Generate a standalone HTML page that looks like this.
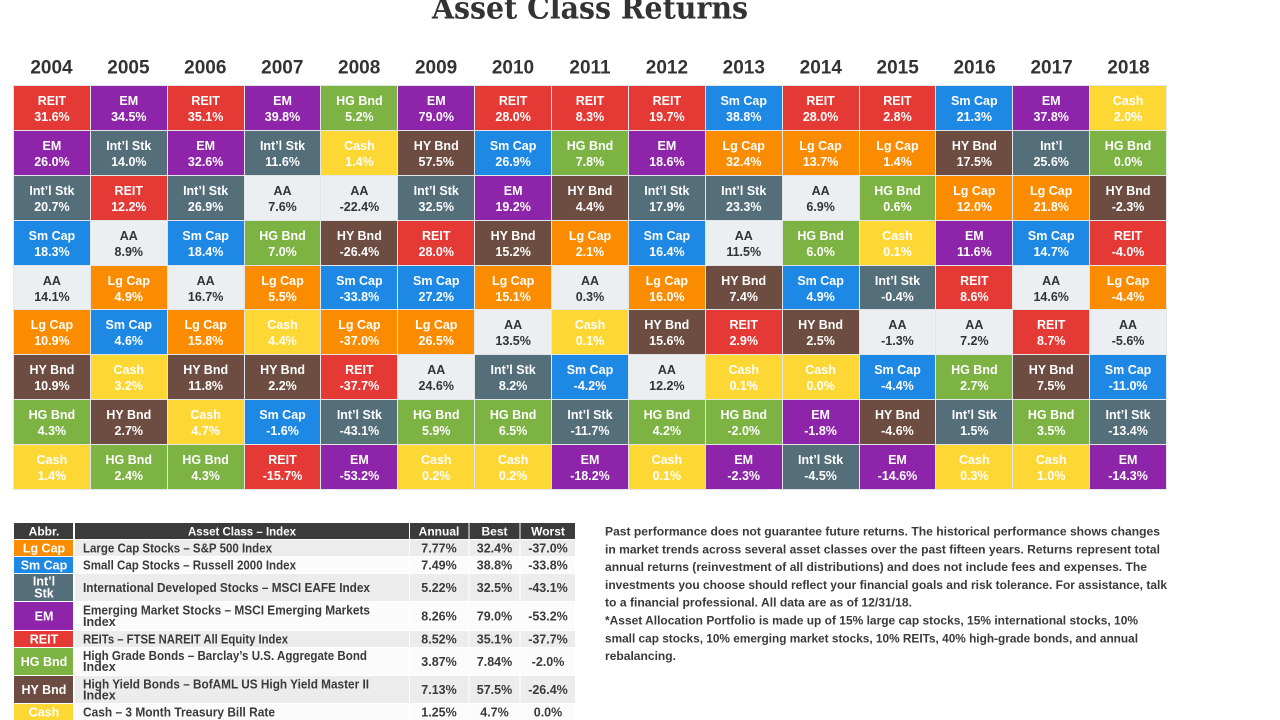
<!DOCTYPE html>
<html><head><meta charset="utf-8"><style>
html,body{margin:0;padding:0;background:#fff;}
body{width:1280px;height:720px;position:relative;overflow:hidden;font-family:"Liberation Sans",sans-serif;}
svg.page{position:absolute;left:0;top:0;}
.grid{position:absolute;left:13px;top:85px;width:1154px;height:405px;display:grid;grid-template-columns:repeat(15,1fr);grid-template-rows:repeat(9,1fr);grid-auto-flow:column;gap:1px;padding:1px;box-sizing:border-box;background:#e3e6e8;}
.grid div{box-sizing:border-box;padding-top:7px;text-align:center;color:#fff;font:bold 12.5px/16px "Liberation Sans",sans-serif;white-space:nowrap;}
.r{background:#e53935}.e{background:#8e24aa}.i{background:#546e7a}.s{background:#1e88e5}
.grid .a{background:#eceff1;color:#333}.l{background:#fb8c00}.h{background:#6d4c41}.g{background:#7cb342}.c{background:#fdd835}
</style></head><body>
<svg class="page" width="1280" height="720" viewBox="0 0 1280 720" xmlns="http://www.w3.org/2000/svg">
<text x="590" y="18.5" text-anchor="middle" font-family="DejaVu Serif, Liberation Serif, serif" font-weight="bold" font-size="31" fill="#333" textLength="316" lengthAdjust="spacingAndGlyphs">Asset Class Returns</text>
<g font-family="Liberation Sans, sans-serif" font-weight="bold" font-size="19" fill="#333" text-anchor="middle">
<text x="51.5" y="73.3">2004</text><text x="128.4" y="73.3">2005</text><text x="205.3" y="73.3">2006</text><text x="282.3" y="73.3">2007</text><text x="359.2" y="73.3">2008</text><text x="436.1" y="73.3">2009</text><text x="513" y="73.3">2010</text><text x="590" y="73.3">2011</text><text x="666.9" y="73.3">2012</text><text x="743.8" y="73.3">2013</text><text x="820.8" y="73.3">2014</text><text x="897.7" y="73.3">2015</text><text x="974.6" y="73.3">2016</text><text x="1051.6" y="73.3">2017</text><text x="1128.5" y="73.3">2018</text>
</g>
<!-- table -->
<rect x="14" y="523" width="561" height="16" fill="#3b3b3b"/>
<rect x="14" y="540" width="561" height="16" fill="#ececec"/>
<rect x="14" y="557" width="561" height="16" fill="#fbfbfb"/>
<rect x="14" y="574" width="561" height="27" fill="#ececec"/>
<rect x="14" y="602" width="561" height="28" fill="#fbfbfb"/>
<rect x="14" y="631" width="561" height="16" fill="#ececec"/>
<rect x="14" y="648" width="561" height="27" fill="#fbfbfb"/>
<rect x="14" y="676" width="561" height="27" fill="#ececec"/>
<rect x="14" y="704" width="561" height="16" fill="#fbfbfb"/>
<g fill="#fff">
<rect x="73" y="523" width="2" height="197"/>
<rect x="409" y="523" width="1" height="197"/>
<rect x="468.5" y="523" width="1" height="197"/>
<rect x="519.5" y="523" width="1" height="197"/>
</g>
<rect x="14" y="540" width="59" height="16" fill="#fb8c00"/>
<rect x="14" y="557" width="59" height="16" fill="#1e88e5"/>
<rect x="14" y="574" width="59" height="27" fill="#546e7a"/>
<rect x="14" y="602" width="59" height="28" fill="#8e24aa"/>
<rect x="14" y="631" width="59" height="16" fill="#e53935"/>
<rect x="14" y="648" width="59" height="27" fill="#7cb342"/>
<rect x="14" y="676" width="59" height="27" fill="#6d4c41"/>
<rect x="14" y="704" width="59" height="16" fill="#fdd835"/>
<g font-family="Liberation Sans, sans-serif" font-weight="bold" font-size="12" fill="#fff" text-anchor="middle">
<text x="44" y="535.5">Abbr.</text>
<text x="242" y="535.5" textLength="108" lengthAdjust="spacingAndGlyphs">Asset Class – Index</text>
<text x="439" y="535.5">Annual</text>
<text x="494.5" y="535.5">Best</text>
<text x="548" y="535.5">Worst</text>
</g>
<g font-family="Liberation Sans, sans-serif" font-weight="bold" font-size="12.5" fill="#fff" text-anchor="middle">
<text x="44" y="552.5">Lg Cap</text>
<text x="44" y="569.5">Sm Cap</text>
<text x="44" y="585.5">Int’l</text>
<text x="44" y="597.5">Stk</text>
<text x="44" y="620.5">EM</text>
<text x="44" y="643.5">REIT</text>
<text x="44" y="666">HG Bnd</text>
<text x="44" y="694">HY Bnd</text>
<text x="44" y="716.5">Cash</text>
</g>
<g font-family="Liberation Sans, sans-serif" font-weight="bold" font-size="12.5" fill="#3a3a3a">
<text x="83" y="552.5" textLength="189" lengthAdjust="spacingAndGlyphs">Large Cap Stocks – S&amp;P 500 Index</text>
<text x="83" y="569.5" textLength="213" lengthAdjust="spacingAndGlyphs">Small Cap Stocks – Russell 2000 Index</text>
<text x="83" y="592" textLength="287" lengthAdjust="spacingAndGlyphs">International Developed Stocks – MSCI EAFE Index</text>
<text x="83" y="614.5" textLength="287" lengthAdjust="spacingAndGlyphs">Emerging Market Stocks – MSCI Emerging Markets</text>
<text x="83" y="626">Index</text>
<text x="83" y="643.5" textLength="205" lengthAdjust="spacingAndGlyphs">REITs – FTSE NAREIT All Equity Index</text>
<text x="83" y="660" textLength="284" lengthAdjust="spacingAndGlyphs">High Grade Bonds – Barclay’s U.S. Aggregate Bond</text>
<text x="83" y="671">Index</text>
<text x="83" y="688.5" textLength="286" lengthAdjust="spacingAndGlyphs">High Yield Bonds – BofAML US High Yield Master II</text>
<text x="83" y="699.5">Index</text>
<text x="83" y="716.5" textLength="192" lengthAdjust="spacingAndGlyphs">Cash – 3 Month Treasury Bill Rate</text>
</g>
<g font-family="Liberation Sans, sans-serif" font-weight="bold" font-size="12.5" fill="#3a3a3a" text-anchor="middle">
<text x="439" y="552.5">7.77%</text><text x="494.5" y="552.5">32.4%</text><text x="548" y="552.5">-37.0%</text>
<text x="439" y="569.5">7.49%</text><text x="494.5" y="569.5">38.8%</text><text x="548" y="569.5">-33.8%</text>
<text x="439" y="592">5.22%</text><text x="494.5" y="592">32.5%</text><text x="548" y="592">-43.1%</text>
<text x="439" y="620.5">8.26%</text><text x="494.5" y="620.5">79.0%</text><text x="548" y="620.5">-53.2%</text>
<text x="439" y="643.5">8.52%</text><text x="494.5" y="643.5">35.1%</text><text x="548" y="643.5">-37.7%</text>
<text x="439" y="666">3.87%</text><text x="494.5" y="666">7.84%</text><text x="548" y="666">-2.0%</text>
<text x="439" y="694">7.13%</text><text x="494.5" y="694">57.5%</text><text x="548" y="694">-26.4%</text>
<text x="439" y="716.5">1.25%</text><text x="494.5" y="716.5">4.7%</text><text x="548" y="716.5">0.0%</text>
</g>
<!-- paragraph -->
<g font-family="Liberation Sans, sans-serif" font-weight="bold" font-size="12" fill="#3a3a3a">
<text x="605" y="535.5" textLength="555" lengthAdjust="spacingAndGlyphs">Past performance does not guarantee future returns. The historical performance shows changes</text>
<text x="605" y="553.3" textLength="555" lengthAdjust="spacingAndGlyphs">in market trends across several asset classes over the past fifteen years. Returns represent total</text>
<text x="605" y="571.1" textLength="542" lengthAdjust="spacingAndGlyphs">annual returns (reinvestment of all distributions) and does not include fees and expenses. The</text>
<text x="605" y="588.9" textLength="562" lengthAdjust="spacingAndGlyphs">investments you choose should reflect your financial goals and risk tolerance. For assistance, talk</text>
<text x="605" y="606.7" textLength="307" lengthAdjust="spacingAndGlyphs">to a financial professional. All data are as of 12/31/18.</text>
<text x="605" y="624.5" textLength="533" lengthAdjust="spacingAndGlyphs">*Asset Allocation Portfolio is made up of 15% large cap stocks, 15% international stocks, 10%</text>
<text x="605" y="642.3" textLength="533" lengthAdjust="spacingAndGlyphs">small cap stocks, 10% emerging market stocks, 10% REITs, 40% high-grade bonds, and annual</text>
<text x="605" y="660.1" textLength="71" lengthAdjust="spacingAndGlyphs">rebalancing.</text>
</g>
</svg>
<div class="grid">
<div class="r">REIT<br>31.6%</div><div class="e">EM<br>26.0%</div><div class="i">Int’l Stk<br>20.7%</div><div class="s">Sm Cap<br>18.3%</div><div class="a">AA<br>14.1%</div><div class="l">Lg Cap<br>10.9%</div><div class="h">HY Bnd<br>10.9%</div><div class="g">HG Bnd<br>4.3%</div><div class="c">Cash<br>1.4%</div>
<div class="e">EM<br>34.5%</div><div class="i">Int’l Stk<br>14.0%</div><div class="r">REIT<br>12.2%</div><div class="a">AA<br>8.9%</div><div class="l">Lg Cap<br>4.9%</div><div class="s">Sm Cap<br>4.6%</div><div class="c">Cash<br>3.2%</div><div class="h">HY Bnd<br>2.7%</div><div class="g">HG Bnd<br>2.4%</div>
<div class="r">REIT<br>35.1%</div><div class="e">EM<br>32.6%</div><div class="i">Int’l Stk<br>26.9%</div><div class="s">Sm Cap<br>18.4%</div><div class="a">AA<br>16.7%</div><div class="l">Lg Cap<br>15.8%</div><div class="h">HY Bnd<br>11.8%</div><div class="c">Cash<br>4.7%</div><div class="g">HG Bnd<br>4.3%</div>
<div class="e">EM<br>39.8%</div><div class="i">Int’l Stk<br>11.6%</div><div class="a">AA<br>7.6%</div><div class="g">HG Bnd<br>7.0%</div><div class="l">Lg Cap<br>5.5%</div><div class="c">Cash<br>4.4%</div><div class="h">HY Bnd<br>2.2%</div><div class="s">Sm Cap<br>-1.6%</div><div class="r">REIT<br>-15.7%</div>
<div class="g">HG Bnd<br>5.2%</div><div class="c">Cash<br>1.4%</div><div class="a">AA<br>-22.4%</div><div class="h">HY Bnd<br>-26.4%</div><div class="s">Sm Cap<br>-33.8%</div><div class="l">Lg Cap<br>-37.0%</div><div class="r">REIT<br>-37.7%</div><div class="i">Int’l Stk<br>-43.1%</div><div class="e">EM<br>-53.2%</div>
<div class="e">EM<br>79.0%</div><div class="h">HY Bnd<br>57.5%</div><div class="i">Int’l Stk<br>32.5%</div><div class="r">REIT<br>28.0%</div><div class="s">Sm Cap<br>27.2%</div><div class="l">Lg Cap<br>26.5%</div><div class="a">AA<br>24.6%</div><div class="g">HG Bnd<br>5.9%</div><div class="c">Cash<br>0.2%</div>
<div class="r">REIT<br>28.0%</div><div class="s">Sm Cap<br>26.9%</div><div class="e">EM<br>19.2%</div><div class="h">HY Bnd<br>15.2%</div><div class="l">Lg Cap<br>15.1%</div><div class="a">AA<br>13.5%</div><div class="i">Int’l Stk<br>8.2%</div><div class="g">HG Bnd<br>6.5%</div><div class="c">Cash<br>0.2%</div>
<div class="r">REIT<br>8.3%</div><div class="g">HG Bnd<br>7.8%</div><div class="h">HY Bnd<br>4.4%</div><div class="l">Lg Cap<br>2.1%</div><div class="a">AA<br>0.3%</div><div class="c">Cash<br>0.1%</div><div class="s">Sm Cap<br>-4.2%</div><div class="i">Int’l Stk<br>-11.7%</div><div class="e">EM<br>-18.2%</div>
<div class="r">REIT<br>19.7%</div><div class="e">EM<br>18.6%</div><div class="i">Int’l Stk<br>17.9%</div><div class="s">Sm Cap<br>16.4%</div><div class="l">Lg Cap<br>16.0%</div><div class="h">HY Bnd<br>15.6%</div><div class="a">AA<br>12.2%</div><div class="g">HG Bnd<br>4.2%</div><div class="c">Cash<br>0.1%</div>
<div class="s">Sm Cap<br>38.8%</div><div class="l">Lg Cap<br>32.4%</div><div class="i">Int’l Stk<br>23.3%</div><div class="a">AA<br>11.5%</div><div class="h">HY Bnd<br>7.4%</div><div class="r">REIT<br>2.9%</div><div class="c">Cash<br>0.1%</div><div class="g">HG Bnd<br>-2.0%</div><div class="e">EM<br>-2.3%</div>
<div class="r">REIT<br>28.0%</div><div class="l">Lg Cap<br>13.7%</div><div class="a">AA<br>6.9%</div><div class="g">HG Bnd<br>6.0%</div><div class="s">Sm Cap<br>4.9%</div><div class="h">HY Bnd<br>2.5%</div><div class="c">Cash<br>0.0%</div><div class="e">EM<br>-1.8%</div><div class="i">Int’l Stk<br>-4.5%</div>
<div class="r">REIT<br>2.8%</div><div class="l">Lg Cap<br>1.4%</div><div class="g">HG Bnd<br>0.6%</div><div class="c">Cash<br>0.1%</div><div class="i">Int’l Stk<br>-0.4%</div><div class="a">AA<br>-1.3%</div><div class="s">Sm Cap<br>-4.4%</div><div class="h">HY Bnd<br>-4.6%</div><div class="e">EM<br>-14.6%</div>
<div class="s">Sm Cap<br>21.3%</div><div class="h">HY Bnd<br>17.5%</div><div class="l">Lg Cap<br>12.0%</div><div class="e">EM<br>11.6%</div><div class="r">REIT<br>8.6%</div><div class="a">AA<br>7.2%</div><div class="g">HG Bnd<br>2.7%</div><div class="i">Int’l Stk<br>1.5%</div><div class="c">Cash<br>0.3%</div>
<div class="e">EM<br>37.8%</div><div class="i">Int’l<br>25.6%</div><div class="l">Lg Cap<br>21.8%</div><div class="s">Sm Cap<br>14.7%</div><div class="a">AA<br>14.6%</div><div class="r">REIT<br>8.7%</div><div class="h">HY Bnd<br>7.5%</div><div class="g">HG Bnd<br>3.5%</div><div class="c">Cash<br>1.0%</div>
<div class="c">Cash<br>2.0%</div><div class="g">HG Bnd<br>0.0%</div><div class="h">HY Bnd<br>-2.3%</div><div class="r">REIT<br>-4.0%</div><div class="l">Lg Cap<br>-4.4%</div><div class="a">AA<br>-5.6%</div><div class="s">Sm Cap<br>-11.0%</div><div class="i">Int’l Stk<br>-13.4%</div><div class="e">EM<br>-14.3%</div>
</div>
</body></html>
